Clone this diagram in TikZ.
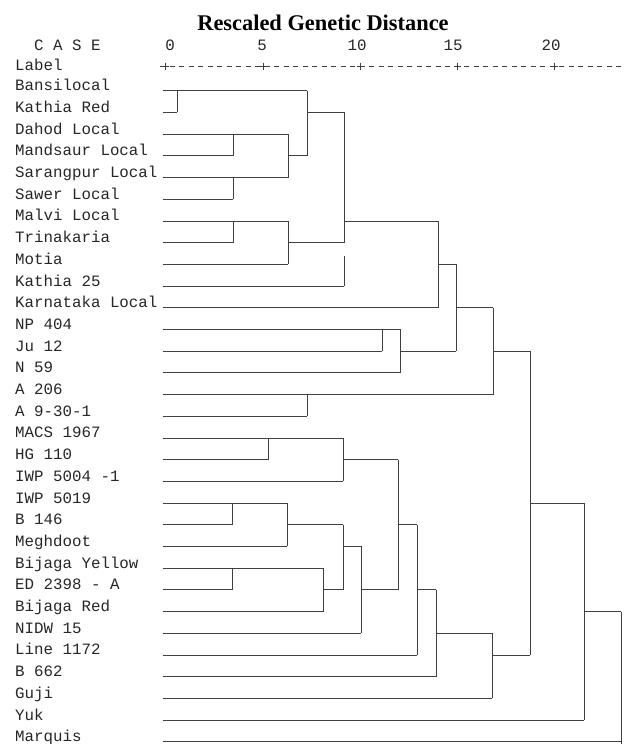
\documentclass[tikz,border=0pt]{standalone}
\usepackage{fontspec}
\setmonofont{Liberation Mono}
\newfontfamily\titlefont{Liberation Serif}
\usetikzlibrary{calc}

\begin{document}
\begin{tikzpicture}[x=1pt, y=-1pt,
    branch/.style={black!75, line width=0.8pt},
    lbl/.style={anchor=base west, inner sep=0pt, black!85, font=\ttfamily\fontsize{15.8}{18}\selectfont}]
  \useasboundingbox (0,0) rectangle (625,744);
  \node[anchor=base, inner sep=0pt, font=\titlefont\bfseries\fontsize{22.4}{26}\selectfont] (title) at (323,30) {Rescaled Genetic Distance};
  \node[lbl] (case) at (34,50) {C A S E};
  \foreach \v/\x in {0/170,5/262,10/357,15/453,20/551}
    \node[lbl, anchor=base] (t\v) at (\x,50) {\v};
  \node[lbl] (label) at (15,70) {Label};
  % scale line
  \coordinate (ax0) at (160,66); \coordinate (ax1) at (625,66);
  \draw[branch, dash pattern=on 5pt off 4.5pt] (ax0) -- (ax1);
  \foreach \x in {165,263,360,457,554}
    \draw[branch] (\x-3.5,66) -- (\x+3.5,66) (\x,62.5) -- (\x,69.5);
  % cases and their lines
  \foreach \name/\e [count=\i from 0] in {Bansilocal/177, Kathia Red/177, Dahod Local/233,
      Mandsaur Local/233, Sarangpur Local/233, Sawer Local/233, Malvi Local/233,
      Trinakaria/233, Motia/288, Kathia 25/344, Karnataka Local/438, NP 404/382,
      Ju 12/382, N 59/400, A 206/307, A 9-30-1/307, MACS 1967/268, HG 110/268,
      IWP 5004 -1/343, IWP 5019/232, B 146/232, Meghdoot/287, Bijaga Yellow/232,
      ED 2398 - A/232, Bijaga Red/323, NIDW 15/361, Line 1172/417, B 662/436,
      Guji/492, Yuk/584, Marquis/621}{
    \pgfmathsetmacro\yy{90.7+21.7*\i}
    \node[lbl] (n\i) at (15,\yy) {\name};
    \coordinate (s\i) at (163,\yy);
    \draw[branch] (s\i) -- ++(\e-163,0);
  }
  % merges: x / first row / last row / row of outgoing line / end of outgoing line
  \foreach \x/\a/\b/\o/\e in {177/0/1/0/307, 233/2/3/2/288, 233/4/5/4/288, 288/2/4/3/307,
      307/0/3/1/344, 233/6/7/6/288, 288/6/8/7/344, 344/1/7/6/438, 438/6/10/8/456,
      382/11/12/11/400, 400/11/13/12/456, 456/8/12/10/493, 307/14/15/14/493,
      493/10/14/12/530, 268/16/17/16/343, 343/16/18/17/398, 232/19/20/19/287,
      287/19/21/20/343, 232/22/23/22/323, 323/22/24/23/343, 343/20/23/21/361,
      361/21/25/23/398, 398/17/23/20/417, 417/20/26/23/436, 436/23/27/25/492,
      492/25/28/26/530, 530/12/26/19/584, 584/19/29/24/621}{
    \draw[branch] ($(s\a)+(\x-163,0)$) -- ($(s\b)+(\x-163,0)$);
    \draw[branch] ($(s\o)+(\x-163,0)$) -- ($(s\o)+(\e-163,0)$);
  }
  \draw[branch] ($(s9)+(181,0)$) -- ++(0,-30);
  \draw[branch] ($(s24)+(458,0)$) -- ($(s30)+(458,3)$);
\end{tikzpicture}
\end{document}
